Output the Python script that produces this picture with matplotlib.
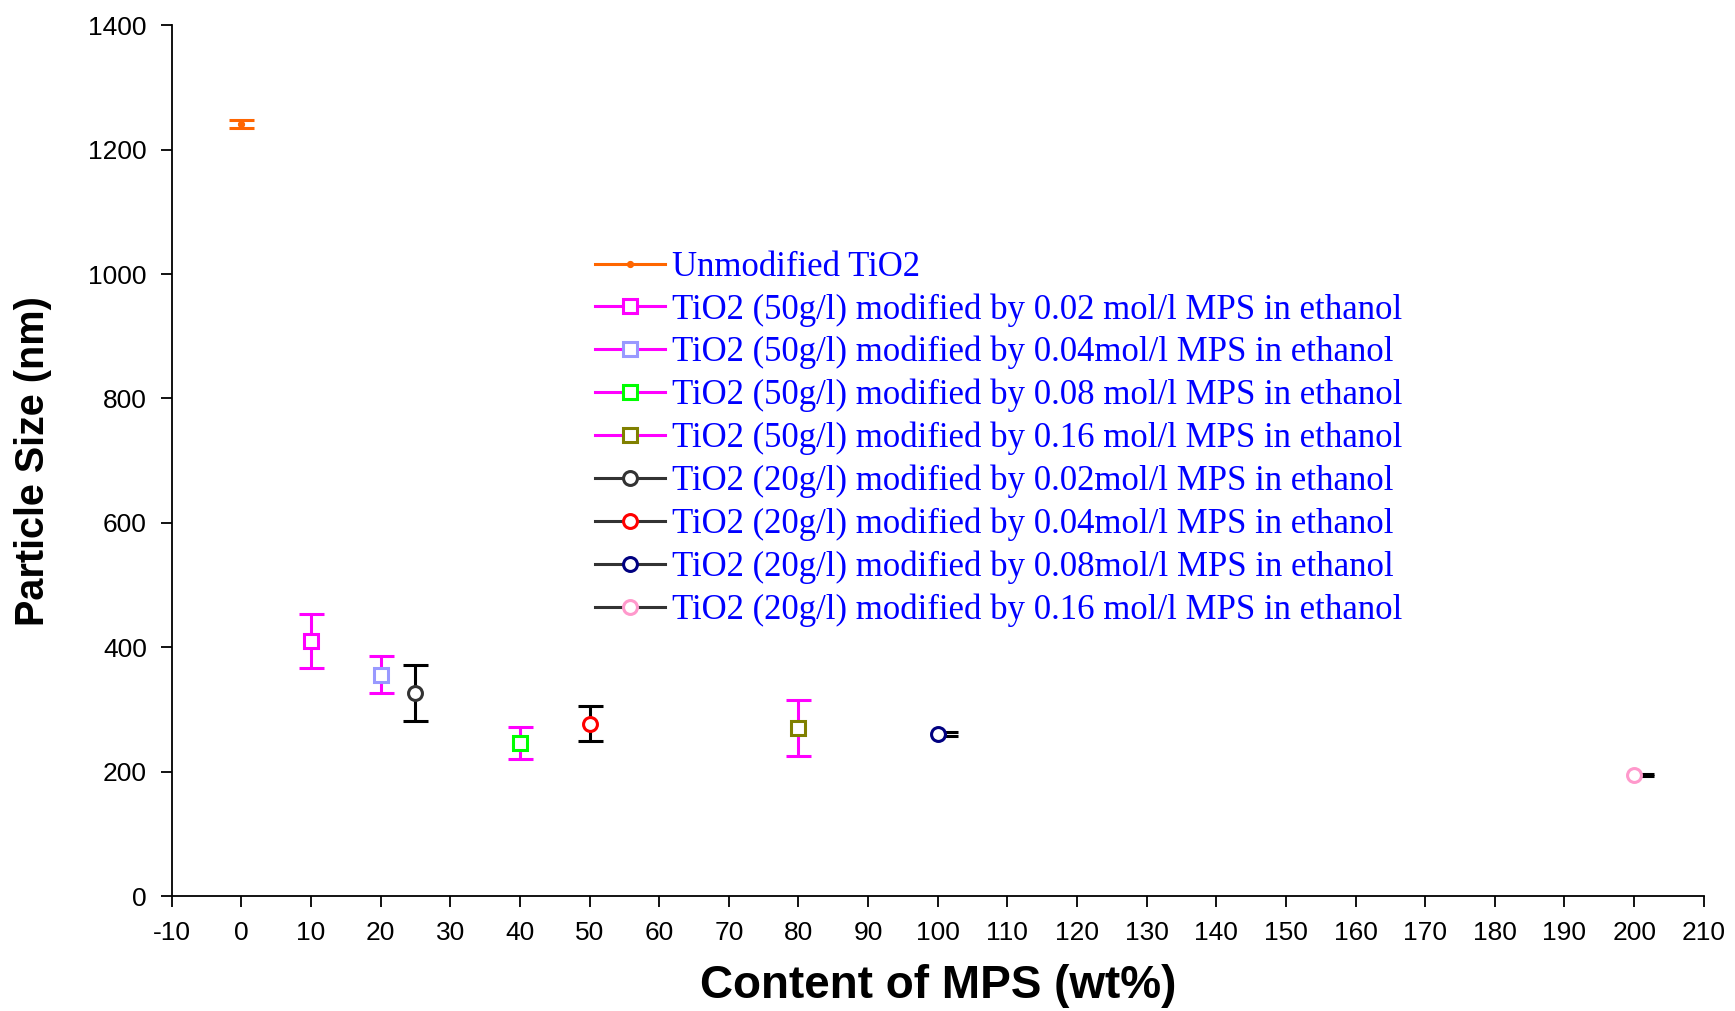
import matplotlib.pyplot as plt

plt.rcParams["axes.unicode_minus"] = False

# data
labels = [
    "Unmodified TiO2",
    "TiO2 (50g/l) modified by 0.02 mol/l MPS in ethanol",
    "TiO2 (50g/l) modified by 0.04mol/l MPS in ethanol",
    "TiO2 (50g/l) modified by 0.08 mol/l MPS in ethanol",
    "TiO2 (50g/l) modified by 0.16 mol/l MPS in ethanol",
    "TiO2 (20g/l) modified by 0.02mol/l MPS in ethanol",
    "TiO2 (20g/l) modified by 0.04mol/l MPS in ethanol",
    "TiO2 (20g/l) modified by 0.08mol/l MPS in ethanol",
    "TiO2 (20g/l) modified by 0.16 mol/l MPS in ethanol",
]
mps_content = [0, 10, 20, 40, 80, 25, 50, 100, 200]
particle_size = [1241, 410, 356, 246, 270, 327, 277, 261, 195]
size_err = [6, 44, 30, 26, 45, 45, 28, 3, 2]
err_x = [0, 10, 20, 40, 80, 25, 50, 101, 201]

markers = ["o", "s", "s", "s", "s", "o", "o", "o", "o"]
marker_sizes = [3, 10, 10, 10, 10, 10, 10, 10, 10]
face_colors = ["#FF6600", "white", "white", "white", "white", "white", "white", "white", "white"]
edge_colors = ["#FF6600", "#FF00FF", "#9999FF", "#00FF00", "#808000",
               "#333333", "#FF0000", "#000080", "#FF99CC"]
line_colors = ["#FF6600", "#FF00FF", "#FF00FF", "#FF00FF", "#FF00FF",
               "#333333", "#333333", "#333333", "#333333"]
err_colors = ["#FF6600", "#FF00FF", "#FF00FF", "#FF00FF", "#FF00FF",
              "black", "black", "black", "black"]

fig = plt.figure(figsize=(17.35, 10.11), dpi=100)
ax = fig.add_axes([0.099, 0.1137, 0.883, 0.8613])

handles = []
for i in range(len(labels)):
    ax.errorbar(err_x[i], particle_size[i], yerr=size_err[i], fmt="none",
                ecolor=err_colors[i], elinewidth=2.2, capsize=9, capthick=2.2, zorder=2)
    ax.plot(mps_content[i], particle_size[i], linestyle="none", marker=markers[i],
            markersize=marker_sizes[i], markerfacecolor=face_colors[i],
            markeredgecolor=edge_colors[i], markeredgewidth=2.2, zorder=3)
    h, = ax.plot([], [], color=line_colors[i], linewidth=2.2, marker=markers[i],
                 markersize=marker_sizes[i], markerfacecolor=face_colors[i],
                 markeredgecolor=edge_colors[i], markeredgewidth=2.2)
    handles.append(h)

leg = ax.legend(handles, labels, loc="upper left", bbox_to_anchor=(0.256, 0.777),
                frameon=False, handlelength=2.0, handletextpad=0.2, labelspacing=0.27,
                prop={"family": "Liberation Serif", "size": 25})
for t in leg.get_texts():
    t.set_color("#0000FF")

ax.set_xlim(-10, 210)
ax.set_ylim(0, 1400)
ax.set_xticks(range(-10, 211, 10))
ax.set_yticks(range(0, 1401, 200))
ax.spines["top"].set_visible(False)
ax.spines["right"].set_visible(False)
ax.spines["left"].set_linewidth(1.3)
ax.spines["bottom"].set_linewidth(1.3)
ax.tick_params(direction="out", length=8, width=1.3, labelsize=19, pad=10)
for lbl in ax.get_xticklabels() + ax.get_yticklabels():
    lbl.set_family("Liberation Sans")

ax.set_xlabel("Content of MPS (wt%)", family="Liberation Sans", fontweight="bold",
              fontsize=33, labelpad=14)
ax.set_ylabel("Particle Size (nm)", family="Liberation Sans", fontweight="bold",
              fontsize=28.5, labelpad=26)

fig.savefig("out.png", dpi=100)
